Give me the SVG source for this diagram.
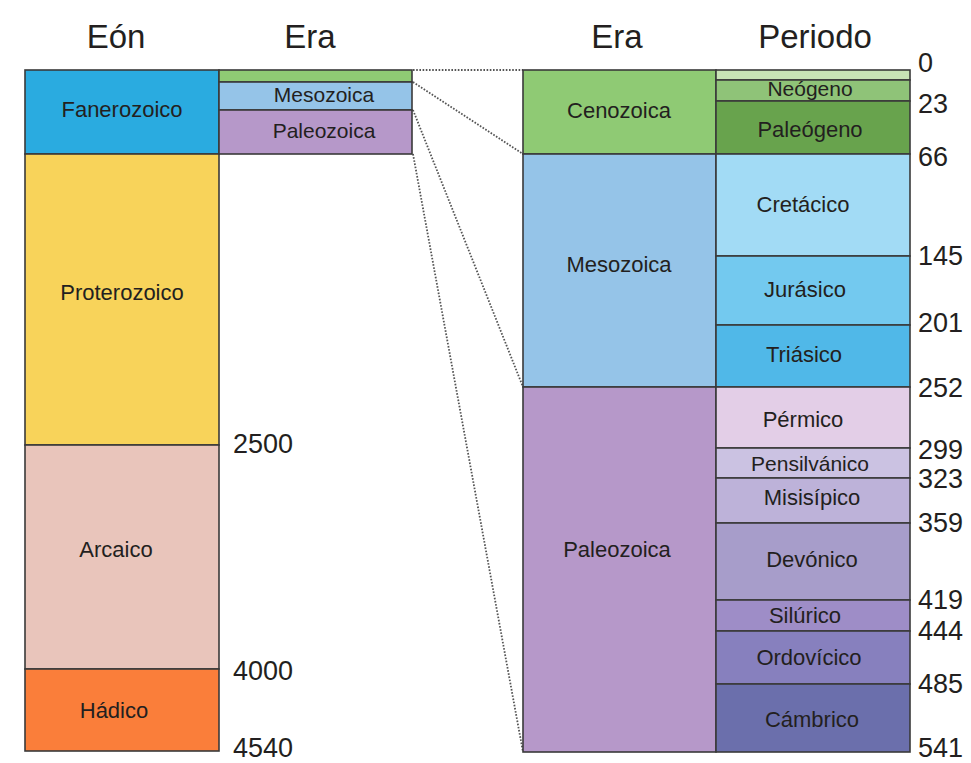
<svg xmlns="http://www.w3.org/2000/svg" width="971" height="763" viewBox="0 0 971 763">
<style>
text{font-family:"Liberation Sans",Arial,sans-serif;fill:#231f20}
.h{font-size:33px;text-anchor:middle}
.l{font-size:22px;text-anchor:middle}
.s{font-size:21px;text-anchor:middle}
.n{font-size:27px}
.b{stroke:#3a3a3a;stroke-width:1.6}
.dot{stroke:#555;stroke-width:1.8;stroke-dasharray:1.6 1.6;fill:none}
</style>
<rect width="971" height="763" fill="#fff"/>
<g id="headers">
<text class="h" x="116" y="48">Eón</text>
<text class="h" x="310" y="48">Era</text>
<text class="h" x="617" y="48">Era</text>
<text class="h" x="815" y="48">Periodo</text>
</g>
<g id="connectors">
<line class="dot" x1="413" y1="70" x2="523" y2="70"/>
<line class="dot" x1="413" y1="82" x2="523" y2="154"/>
<line class="dot" x1="413" y1="110" x2="523" y2="387"/>
<line class="dot" x1="413" y1="154" x2="523" y2="752"/>
</g>
<g id="eon-fanerozoico"><rect class="b" x="25" y="70" width="194" height="84" fill="#2aabe0"/><text class="l" x="122" y="117">Fanerozoico</text></g>
<g id="eon-proterozoico"><rect class="b" x="25" y="154" width="194" height="291" fill="#f8d35a"/><text class="l" x="122" y="300">Proterozoico</text></g>
<g id="eon-arcaico"><rect class="b" x="25" y="445" width="194" height="224" fill="#e9c5bb"/><text class="l" x="116" y="557">Arcaico</text></g>
<g id="eon-hadico"><rect class="b" x="25" y="669" width="194" height="82" fill="#fa7e3a"/><text class="l" x="114" y="718">Hádico</text></g>
<g id="era-cenozoica-small"><rect class="b" x="219" y="70" width="193" height="12" fill="#8fca74"/></g>
<g id="era-mesozoica-small"><rect class="b" x="219" y="82" width="193" height="28" fill="#95c4e8"/><text class="s" x="324" y="102">Mesozoica</text></g>
<g id="era-paleozoica-small"><rect class="b" x="219" y="110" width="193" height="44" fill="#b698c9"/><text class="s" x="324" y="138">Paleozoica</text></g>
<g id="era-cenozoica"><rect class="b" x="523" y="70" width="193" height="84" fill="#8fca74"/><text class="l" x="619" y="118">Cenozoica</text></g>
<g id="era-mesozoica"><rect class="b" x="523" y="154" width="193" height="233" fill="#95c4e8"/><text class="l" x="619" y="272">Mesozoica</text></g>
<g id="era-paleozoica"><rect class="b" x="523" y="387" width="193" height="365" fill="#b698c9"/><text class="l" x="617" y="557">Paleozoica</text></g>
<g id="per-cuaternario"><rect class="b" x="716" y="70" width="194" height="10" fill="#c8e3b6"/></g>
<g id="per-neogeno"><rect class="b" x="716" y="80" width="194" height="21" fill="#8fc378"/><text class="s" x="810" y="96">Neógeno</text></g>
<g id="per-paleogeno"><rect class="b" x="716" y="101" width="194" height="53" fill="#68a34d"/><text class="l" x="810" y="137">Paleógeno</text></g>
<g id="per-cretacico"><rect class="b" x="716" y="154" width="194" height="102" fill="#a2dbf5"/><text class="l" x="803" y="212">Cretácico</text></g>
<g id="per-jurasico"><rect class="b" x="716" y="256" width="194" height="69" fill="#73c9ef"/><text class="l" x="805" y="297">Jurásico</text></g>
<g id="per-triasico"><rect class="b" x="716" y="325" width="194" height="62" fill="#50b8e8"/><text class="l" x="804" y="362">Triásico</text></g>
<g id="per-permico"><rect class="b" x="716" y="387" width="194" height="61" fill="#e3cee7"/><text class="l" x="803" y="427">Pérmico</text></g>
<g id="per-pensilvanico"><rect class="b" x="716" y="448" width="194" height="30" fill="#cbc2e2"/><text class="s" x="810" y="471">Pensilvánico</text></g>
<g id="per-misisipico"><rect class="b" x="716" y="478" width="194" height="45" fill="#bdb2d9"/><text class="l" x="812" y="505">Misisípico</text></g>
<g id="per-devonico"><rect class="b" x="716" y="523" width="194" height="77" fill="#a79dca"/><text class="l" x="812" y="567">Devónico</text></g>
<g id="per-silurico"><rect class="b" x="716" y="600" width="194" height="31" fill="#9e8dc7"/><text class="l" x="805" y="623">Silúrico</text></g>
<g id="per-ordovicico"><rect class="b" x="716" y="631" width="194" height="53" fill="#8780be"/><text class="l" x="809" y="665">Ordovícico</text></g>
<g id="per-cambrico"><rect class="b" x="716" y="684" width="194" height="68" fill="#6b6fac"/><text class="l" x="812" y="727">Cámbrico</text></g>
<g id="ages-left">
<text class="n" x="233" y="453">2500</text>
<text class="n" x="233" y="680">4000</text>
<text class="n" x="233" y="757">4540</text>
</g>
<g id="ages-right">
<text class="n" x="918" y="72">0</text>
<text class="n" x="918" y="113">23</text>
<text class="n" x="918" y="166">66</text>
<text class="n" x="918" y="265">145</text>
<text class="n" x="918" y="332">201</text>
<text class="n" x="918" y="397">252</text>
<text class="n" x="918" y="459">299</text>
<text class="n" x="918" y="488">323</text>
<text class="n" x="918" y="532">359</text>
<text class="n" x="918" y="609">419</text>
<text class="n" x="918" y="640">444</text>
<text class="n" x="918" y="693">485</text>
<text class="n" x="918" y="757">541</text>
</g>
</svg>
